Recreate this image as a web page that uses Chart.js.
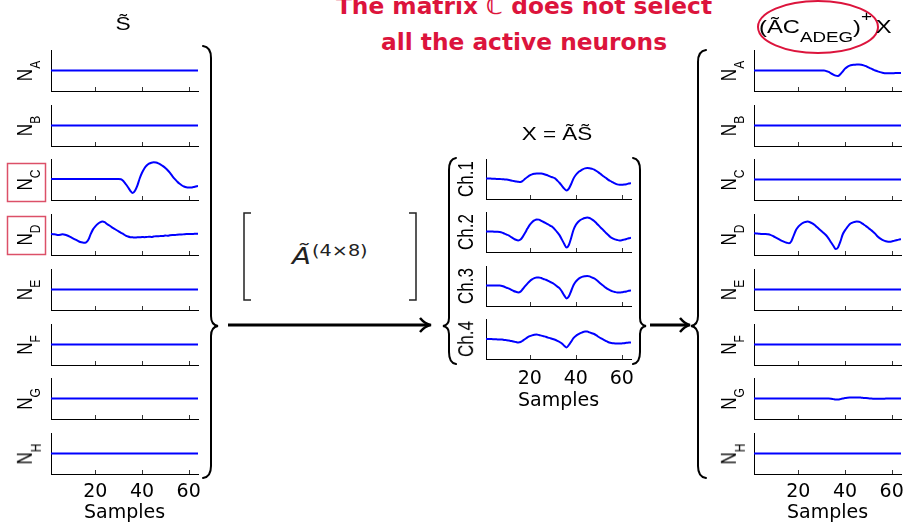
<!DOCTYPE html>
<html lang="en">
<head>
<meta charset="UTF-8">
<title>Neuron unmixing</title>
<script src="https://cdn.jsdelivr.net/npm/chart.js@4.4.0/dist/chart.umd.min.js"></script>
<style>
  body { margin: 0; background: #fff; }
  #fig { position: relative; width: 907px; height: 526px; overflow: hidden;
         font-family: "Liberation Sans", Arial, sans-serif; color: #000; }
  #fig canvas { position: absolute; }
  .txt { position: absolute; white-space: nowrap; }
  .ylab { position: absolute; white-space: nowrap; font-size: 17px; line-height: 17px;
          transform: translate(-50%, -50%) scaleX(1.25) rotate(-90deg); }
  .ylab sub { font-size: 12px; position: relative; top: 7px; vertical-align: baseline; }
  svg { position: absolute; left: 0; top: 0; }
</style>
</head>
<body>
<div id="fig">
  <svg width="907" height="526" id="deco"></svg>
</div>

<script>
// samples on the x axis
const samples = [1,2,3,4,5,6,7,8,9,10,11,12,13,14,15,16,17,18,19,20,21,22,23,24,25,26,27,28,29,30,31,32,
  33,34,35,36,37,38,39,40,41,42,43,44,45,46,47,48,49,50,51,52,53,54,55,56,57,58,59,60,61,62,63,64];
const xTicks = [20, 40, 60];

// inactive neuron: flat trace
const flat = [0,0,0,0,0,0,0,0,0,0,0,0,0,0,0,0,0,0,0,0,0,0,0,0,0,0,0,0,0,0,0,0,
  0,0,0,0,0,0,0,0,0,0,0,0,0,0,0,0,0,0,0,0,0,0,0,0,0,0,0,0,0,0,0,0];

// S~ (true sources)
const srcC = [0.02,0.02,0.02,0.02,0.02,0.02,0.02,0.02,0.02,0.02,0.02,0.02,0.02,0.02,0.02,0.02,
  0.02,0.02,0.02,0.02,0.02,0.02,0.02,0.02,0.02,0.02,0.02,0.02,0.02,0.02,0.01,-0.07,
  -0.22,-0.38,-0.55,-0.66,-0.55,-0.30,0.05,0.33,0.54,0.68,0.77,0.82,0.84,0.83,0.79,0.73,
  0.65,0.56,0.45,0.32,0.17,0.03,-0.09,-0.20,-0.28,-0.34,-0.38,-0.39,-0.39,-0.37,-0.34,-0.31];
const srcD = [0.02,0.01,0.00,-0.02,-0.01,0.01,-0.01,-0.05,-0.10,-0.16,-0.22,-0.28,-0.34,-0.38,-0.40,-0.39,
  -0.26,0.02,0.25,0.40,0.51,0.59,0.63,0.60,0.51,0.44,0.36,0.29,0.22,0.15,0.08,0.02,
  -0.05,-0.10,-0.13,-0.14,-0.15,-0.14,-0.14,-0.12,-0.13,-0.12,-0.11,-0.12,-0.10,-0.08,-0.09,-0.07,
  -0.07,-0.05,-0.06,-0.04,-0.03,-0.03,-0.01,0.00,0.00,0.01,0.02,0.02,0.03,0.03,0.04,0.04];

// X = A~S~ (recorded channels)
const ch1 = [0.02,0.02,0.02,0.01,0.01,0.00,0.00,-0.01,-0.02,-0.03,-0.05,-0.08,-0.10,-0.12,-0.14,-0.15,
  -0.09,0.01,0.10,0.18,0.23,0.26,0.28,0.28,0.27,0.25,0.21,0.17,0.12,0.08,0.03,-0.08,
  -0.20,-0.34,-0.48,-0.57,-0.48,-0.25,0.02,0.20,0.33,0.41,0.48,0.53,0.55,0.54,0.51,0.47,
  0.40,0.32,0.23,0.14,0.06,-0.03,-0.10,-0.16,-0.22,-0.27,-0.29,-0.29,-0.28,-0.26,-0.23,-0.21];
const ch2 = [0.02,0.02,0.02,0.02,0.01,0.01,0.00,-0.03,-0.08,-0.13,-0.18,-0.26,-0.33,-0.39,-0.42,-0.38,
  -0.23,-0.04,0.17,0.36,0.49,0.58,0.63,0.62,0.56,0.50,0.44,0.38,0.31,0.24,0.12,-0.02,
  -0.17,-0.38,-0.60,-0.78,-0.65,-0.30,0.10,0.35,0.50,0.60,0.66,0.70,0.72,0.70,0.63,0.55,
  0.44,0.32,0.20,0.09,-0.03,-0.14,-0.25,-0.32,-0.37,-0.40,-0.42,-0.41,-0.38,-0.35,-0.31,-0.29];
const ch3 = [0.03,0.03,0.03,0.03,0.02,0.02,0.02,0.00,-0.04,-0.09,-0.13,-0.19,-0.25,-0.29,-0.32,-0.28,
  -0.15,-0.01,0.12,0.24,0.33,0.39,0.43,0.43,0.40,0.35,0.31,0.26,0.20,0.14,0.06,-0.03,
  -0.12,-0.28,-0.47,-0.62,-0.52,-0.25,0.04,0.22,0.34,0.42,0.47,0.49,0.50,0.48,0.43,0.38,
  0.30,0.20,0.10,0.01,-0.08,-0.16,-0.22,-0.27,-0.30,-0.32,-0.32,-0.31,-0.29,-0.27,-0.24,-0.22];
const ch4 = [0.00,0.00,0.00,-0.01,-0.01,-0.02,-0.02,-0.03,-0.05,-0.06,-0.08,-0.10,-0.13,-0.15,-0.17,-0.15,
  -0.08,0.00,0.08,0.14,0.18,0.21,0.22,0.20,0.17,0.14,0.11,0.07,0.04,0.00,-0.04,-0.09,
  -0.15,-0.22,-0.34,-0.42,-0.30,-0.13,0.04,0.15,0.23,0.29,0.34,0.37,0.37,0.33,0.29,0.25,
  0.18,0.10,0.03,-0.03,-0.09,-0.15,-0.19,-0.21,-0.22,-0.23,-0.23,-0.22,-0.21,-0.19,-0.18,-0.17];

// (A~C_ADEG)^+ X (estimates)
const estA = [0,0,0,0,0,0,0,0,0,0,0,0,0,0,0,0,0,0,0,0,0,0,0,0,0,0,0,0,0,0,0.00,-0.03,
  -0.07,-0.14,-0.20,-0.25,-0.27,-0.18,-0.05,0.09,0.18,0.24,0.27,0.28,0.29,0.29,0.28,0.25,
  0.21,0.15,0.10,0.05,0.00,-0.04,-0.08,-0.11,-0.13,-0.14,-0.14,-0.13,-0.13,-0.12,-0.12,-0.12];
const estD = [0.06,0.05,0.04,0.03,0.02,0.03,0.01,-0.02,-0.07,-0.13,-0.19,-0.25,-0.31,-0.36,-0.40,-0.43,
  -0.33,-0.05,0.22,0.38,0.49,0.57,0.61,0.63,0.60,0.54,0.46,0.36,0.26,0.16,0.06,-0.05,
  -0.20,-0.38,-0.55,-0.71,-0.63,-0.35,0.00,0.20,0.36,0.50,0.57,0.61,0.63,0.62,0.57,0.49,
  0.41,0.32,0.23,0.14,0.03,-0.10,-0.19,-0.26,-0.31,-0.34,-0.35,-0.34,-0.31,-0.28,-0.25,-0.23];
const estG = [0,0,0,0,0,0,0,0,0,0,0,0,0,0,0,0,0,0,0,0,0,0,0,0,0,0,0,0,0,0,0,0,
  0,-0.01,-0.03,-0.05,-0.05,-0.03,0.00,0.02,0.04,0.05,0.05,0.05,0.05,0.05,0.04,0.03,
  0.02,0.01,0.00,-0.01,-0.01,-0.01,-0.01,-0.01,-0.01,0.00,0.00,0.00,0.00,0.00,0.00,0.00];

const neuronNames = ['A','B','C','D','E','F','G','H'];
const channelNames = ['Ch.1','Ch.2','Ch.3','Ch.4'];
const leftTraces = [flat, flat, srcC, srcD, flat, flat, flat, flat];
const midTraces = [ch1, ch2, ch3, ch4];
const rightTraces = [estA, flat, flat, estD, flat, flat, estG, flat];

const PAD = 14;
const fig = document.getElementById('fig');

// small inward tick marks, like matlab
const inwardTicks = {
  id: 'inwardTicks',
  afterDraw(chart) {
    const {ctx, chartArea, scales} = chart;
    ctx.save();
    ctx.strokeStyle = '#333';
    ctx.lineWidth = 1;
    xTicks.forEach(v => {
      const px = Math.round(scales.x.getPixelForValue(v)) + 0.5;
      ctx.beginPath();
      ctx.moveTo(px, chartArea.bottom);
      ctx.lineTo(px, chartArea.bottom - 4);
      ctx.stroke();
    });
    ctx.restore();
  }
};

const axisFont = {family: 'DejaVu Sans', size: 19, lineHeight: 1.2};

// extra = height kept under the bottom panel for tick labels + "Samples"
function panel(left, top, w, h, values, extra, tickPad) {
  const bottom = extra > 0;
  const cv = document.createElement('canvas');
  cv.width = w + 2 * PAD;
  cv.height = bottom ? h + PAD + extra : h + 2 * PAD;
  cv.style.left = (left - PAD) + 'px';
  cv.style.top = (top - PAD) + 'px';
  fig.appendChild(cv);
  new Chart(cv, {
    type: 'line',
    data: {
      datasets: [{
        data: samples.map((s, i) => ({x: s, y: values[i]})),
        borderColor: '#0000ff',
        borderWidth: 2,
        pointRadius: 0,
        cubicInterpolationMode: 'monotone',
        fill: false
      }]
    },
    options: {
      responsive: false,
      animation: false,
      devicePixelRatio: 1,
      layout: {padding: {left: PAD, right: PAD, top: PAD, bottom: bottom ? 0 : PAD}},
      plugins: {legend: {display: false}, tooltip: {enabled: false}},
      scales: {
        x: {
          type: 'linear', min: 1, max: 64,
          afterBuildTicks: s => { s.ticks = xTicks.map(v => ({value: v})); },
          afterFit: s => { s.height = extra; },
          border: {display: true, color: '#000', width: 1},
          grid: {display: true, drawOnChartArea: false, drawTicks: false},
          ticks: {display: bottom, padding: tickPad, maxRotation: 0, autoSkip: false, color: '#000',
                  font: axisFont},
          title: {display: bottom, text: 'Samples', color: '#000', padding: 0, font: axisFont}
        },
        y: {
          min: -1, max: 1,
          afterFit: s => { s.width = 0; },
          border: {display: true, color: '#000', width: 1},
          grid: {display: false},
          ticks: {display: false}
        }
      }
    },
    plugins: [inwardTicks]
  });
}

function ylabel(x, y, html) {
  const d = document.createElement('div');
  d.className = 'ylab';
  d.style.left = x + 'px';
  d.style.top = y + 'px';
  d.innerHTML = html;
  fig.appendChild(d);
}

// left and right columns: 8 neurons each
[[51, leftTraces, 26], [754, rightTraces, 730]].forEach(([left, traces, lx]) => {
  traces.forEach((vals, i) => {
    const top = Math.round(50 + i * 54.7);
    const last = i === traces.length - 1;
    panel(left, top, 147, 41, vals, last ? 50 : 0, 7);
    ylabel(lx, top + 20.5, 'N<sub>' + neuronNames[i] + '</sub>');
  });
});

// middle column: 4 channels
midTraces.forEach((vals, i) => {
  const top = Math.round(159 + i * 53.3);
  const last = i === midTraces.length - 1;
  panel(486, top, 145, 40, vals, last ? 53 : 0, 9);
  ylabel(466, top + 20, channelNames[i]);
});

function text(html, css) {
  const d = document.createElement('div');
  d.className = 'txt';
  d.innerHTML = html;
  Object.assign(d.style, css);
  fig.appendChild(d);
  return d;
}

text('S\u0303', {left: '123px', top: '14px', fontSize: '19px', lineHeight: '19px',
                 transform: 'translateX(-50%) scaleX(1.2)'});
text('X = \u00C3S\u0303', {left: '557px', top: '125px', fontSize: '18px', lineHeight: '18px',
                 transform: 'translateX(-50%) scaleX(1.25)'});
text('(\u00C3C<span style="font-size:15px;position:relative;top:9px">ADEG</span>)' +
     '<span style="font-size:15px;position:relative;top:-12px;margin-right:3px">+</span>X',
     {left: '759px', top: '17px', fontSize: '19px', lineHeight: '19px',
      transform: 'scaleX(1.25)', transformOrigin: 'left center'});
text('The matrix \u2102 does not select<br>all the active neurons',
     {left: '524px', top: '-12px', transform: 'translateX(-50%)', textAlign: 'center',
      fontFamily: '"DejaVu Sans", sans-serif', fontWeight: 'bold', fontSize: '23.3px',
      lineHeight: '36px', color: '#dc143c'});
text('<i>\u00C3</i><span style="font-size:16px;position:relative;top:-8px;margin-left:1px">(4\u00D78)</span>',
     {left: '292px', top: '245px', fontFamily: '"DejaVu Sans", sans-serif', fontSize: '23px',
      lineHeight: '23px', color: '#222', transform: 'scaleX(1.2)', transformOrigin: 'left center'});

// braces, arrows, brackets and highlight marks
const svg = document.getElementById('deco');
svg.innerHTML = `
  <g fill="none" stroke="#000" stroke-width="2" stroke-linecap="round">
    <path d="M203,46 Q211,47 211,58 L211,316 Q211,325 218,326 Q211,327 211,336 L211,466 Q211,477 203,478"/>
    <path d="M456,158 Q449,159 449,170 L449,318 Q449,325 443,326 Q449,327 449,334 L449,352 Q449,363 456,364"/>
    <path d="M633,158 Q640,159 640,170 L640,318 Q640,325 646,326 Q640,327 640,334 L640,352 Q640,363 633,364"/>
    <path d="M706,50 Q698,51 698,62 L698,316 Q698,325 691,326 Q698,327 698,336 L698,466 Q698,477 706,478"/>
  </g>
  <g fill="none" stroke="#000" stroke-width="3">
    <line x1="228" y1="325" x2="428" y2="325"/>
    <path d="M420,318 Q425,324 431,325 Q425,326 420,332" stroke-width="2.5"/>
    <line x1="650" y1="325" x2="687" y2="325"/>
    <path d="M680,318 Q685,324 690,325 Q685,326 680,332" stroke-width="2.5"/>
  </g>
  <g fill="none" stroke="#222" stroke-width="1.5">
    <path d="M251,213 L244,213 L244,300 L251,300"/>
    <path d="M409,213 L416,213 L416,300 L409,300"/>
  </g>
  <g fill="none" stroke="#dc5068" stroke-width="1.5">
    <rect x="7.5" y="163.5" width="38" height="38"/>
    <rect x="7.5" y="216.5" width="38" height="38"/>
  </g>
  <ellipse cx="818" cy="27" rx="60" ry="26" fill="none" stroke="#dc143c" stroke-width="2"/>
`;
</script>
</body>
</html>
